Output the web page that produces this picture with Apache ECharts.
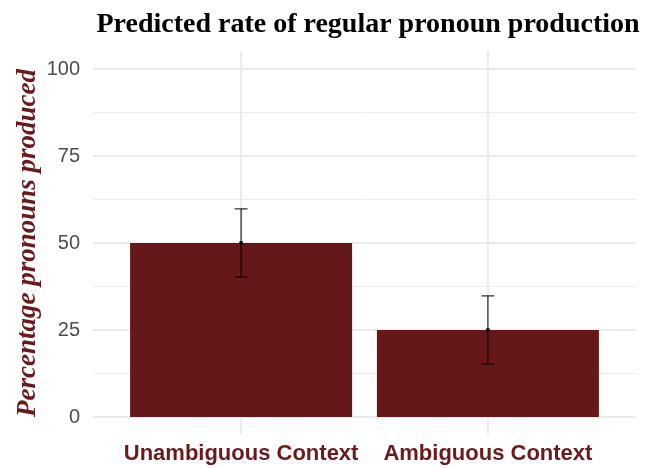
<!DOCTYPE html>
<html>
<head>
<meta charset="utf-8">
<script src="https://cdn.jsdelivr.net/npm/echarts@6/dist/echarts.min.js"></script>
<style>
  html, body { margin: 0; padding: 0; background: #fff; }
  #chart { width: 645px; height: 468px; }
</style>
</head>
<body>
<div id="chart"></div>
<script>
// categories and predicted values (percent)
var categories = ['Unambiguous Context', 'Ambiguous Context'];
var rates = [50, 25];
var lower = [40.2, 15.2];
var upper = [59.8, 34.8];
var yTicks = [0, 25, 50, 75, 100];

var barColor = '#661719';
var labelRed = '#6b1a1c';

var chart = echarts.init(document.getElementById('chart'));

// bars sit at x = 1, 2 on a value axis running 0.4 .. 2.6 (like ggplot's discrete expand)
var barData = rates.map(function (v, i) { return [i + 1, v]; });
var errData = rates.map(function (v, i) { return [i + 1, lower[i], upper[i], v]; });
var vgridData = categories.map(function (c, i) { return [i + 1]; });

chart.setOption({
    animation: false,
    title: {
        text: 'Predicted rate of regular pronoun production',
        left: 363,
        textAlign: 'center',
        top: 6,
        textStyle: {
            fontFamily: 'Liberation Serif',
            fontWeight: 'bold',
            fontSize: 28,
            color: '#000'
        }
    },
    grid: {
        left: 93,
        right: 9,
        top: 69,
        bottom: 51
    },
    xAxis: {
        type: 'value',
        min: 0.4,
        max: 2.6,
        axisLine: {show: false},
        axisTick: {show: false, customValues: [1, 2]},
        splitLine: {show: false},
        axisLabel: {
            customValues: [1, 2],
            margin: 26,
            fontFamily: 'Liberation Sans',
            fontWeight: 'bold',
            fontSize: 22,
            color: labelRed,
            formatter: function (v) {
                return categories[Math.round(v) - 1] || '';
            }
        }
    },
    yAxis: {
        type: 'value',
        min: 0,
        max: 100,
        interval: 25,
        name: 'Percentage pronouns produced',
        nameLocation: 'middle',
        nameGap: 51,
        nameMoveOverlap: false,
        nameTextStyle: {
            fontFamily: 'Liberation Serif',
            fontWeight: 'bold',
            fontStyle: 'italic',
            fontSize: 27,
            color: labelRed
        },
        axisLine: {show: false},
        axisTick: {show: false},
        axisLabel: {
            margin: 13,
            fontFamily: 'Liberation Sans',
            fontSize: 20,
            color: '#4d4d4d'
        },
        splitLine: {lineStyle: {color: '#ebebeb', width: 2}},
        minorTick: {show: false, splitNumber: 2},
        minorSplitLine: {show: true, lineStyle: {color: '#ebebeb', width: 1}}
    },
    series: [
        {
            // vertical grid lines for the two categories, spanning the expanded panel
            type: 'custom',
            silent: true,
            clip: false,
            z: 0,
            data: vgridData,
            renderItem: function (params, api) {
                var top = api.coord([api.value(0), 105]);
                var bot = api.coord([api.value(0), -5]);
                return {
                    type: 'line',
                    shape: {x1: top[0], y1: top[1], x2: bot[0], y2: bot[1]},
                    style: {stroke: '#ebebeb', lineWidth: 2}
                };
            }
        },
        {
            type: 'bar',
            data: barData,
            barWidth: 222,
            z: 2,
            itemStyle: {color: barColor}
        },
        {
            // error bars with caps and a point at the estimate
            type: 'custom',
            z: 3,
            clip: false,
            data: errData,
            renderItem: function (params, api) {
                var x = api.value(0);
                var lo = api.coord([x, api.value(1)]);
                var hi = api.coord([x, api.value(2)]);
                var mid = api.coord([x, api.value(3)]);
                var cap = 6.5;
                var st = {stroke: '#000', lineWidth: 1};
                return {
                    type: 'group',
                    children: [
                        {type: 'line', shape: {x1: hi[0], y1: hi[1], x2: lo[0], y2: lo[1]}, style: st},
                        {type: 'line', shape: {x1: hi[0] - cap, y1: hi[1], x2: hi[0] + cap, y2: hi[1]}, style: st},
                        {type: 'line', shape: {x1: lo[0] - cap, y1: lo[1], x2: lo[0] + cap, y2: lo[1]}, style: st},
                        {type: 'circle', shape: {cx: mid[0], cy: mid[1], r: 2}, style: {fill: '#000'}}
                    ]
                };
            }
        }
    ]
});
</script>
</body>
</html>
